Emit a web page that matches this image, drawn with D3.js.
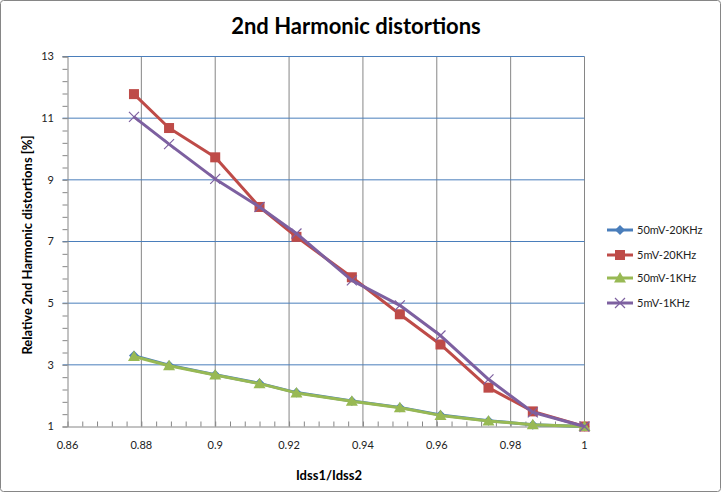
<!DOCTYPE html>
<html><head><meta charset="utf-8">
<script src="https://cdn.jsdelivr.net/npm/d3@7"></script>
<style>body{margin:0;background:#fff}svg{display:block}text{font-family:Lato,"Open Sans",sans-serif}</style>
</head><body><div id="chart"></div>
<script>
const xVals = [0.878, 0.8875, 0.9, 0.912, 0.922, 0.937, 0.95, 0.961, 0.974, 0.986, 1.0];
const s50mV20k = [3.3, 2.99, 2.68, 2.4, 2.1, 1.83, 1.62, 1.37, 1.19, 1.06, 1.0];
const s5mV20k  = [11.78, 10.68, 9.73, 8.12, 7.15, 5.84, 4.64, 3.66, 2.26, 1.49, 1.0];
const s50mV1k  = [3.27, 2.97, 2.67, 2.39, 2.09, 1.82, 1.61, 1.36, 1.18, 1.06, 1.0];
const s5mV1k   = [11.04, 10.16, 9.03, 8.12, 7.26, 5.74, 4.93, 3.95, 2.53, 1.46, 1.0];
const seriesNames = ["50mV-20KHz", "5mV-20KHz", "50mV-1KHz", "5mV-1KHz"];
const xTicks = [0.86, 0.88, 0.9, 0.92, 0.94, 0.96, 0.98, 1];
const yTicks = [1, 3, 5, 7, 9, 11, 13];
const title = "2nd Harmonic distortions";
const xTitle = "Idss1/Idss2";
const yTitle = "Relative 2nd Harmonic distortions [%]";

const W = 721, H = 492;
const colors = ["#4a7ebb", "#be4b48", "#98b954", "#7d60a0"];
const markers = ["diamond", "square", "triangle", "cross"];
const allSeries = [s50mV20k, s5mV20k, s50mV1k, s5mV1k];

const svg = d3.select("#chart").append("svg").attr("width", W).attr("height", H);
svg.append("rect").attr("x", 0.5).attr("y", 0.5).attr("width", W - 1).attr("height", H - 1)
  .attr("rx", 3).attr("fill", "#fff").attr("stroke", "#868686");

const x = d3.scaleLinear().domain([0.86, 1]).range([67.5, 584.5]);
const y = d3.scaleLinear().domain([1, 13]).range([426.5, 56.5]);
const grey = "#868686";

// vertical grid
svg.append("g").selectAll("line").data(xTicks.slice(1)).join("line")
  .attr("x1", d => x(d)).attr("x2", d => x(d)).attr("y1", y(13)).attr("y2", y(1))
  .attr("stroke", grey).attr("stroke-width", 1);
// horizontal grid
svg.append("g").selectAll("line").data(yTicks.slice(1)).join("line")
  .attr("x1", x(0.86) - 5).attr("x2", x(1)).attr("y1", d => y(d)).attr("y2", d => y(d))
  .attr("stroke", "#4a7ebb").attr("stroke-width", 1);

// y axis
const yMinor = d3.range(1, 13.001, 0.4);
const yAxis = d3.axisLeft(y).tickValues(yMinor).tickSize(5).tickFormat("");
const gy = svg.append("g").attr("transform", `translate(${x(0.86)},0)`).call(yAxis);
gy.selectAll("path,line").attr("stroke", grey);
svg.append("g").selectAll("text").data(yTicks).join("text")
  .attr("x", 54).attr("y", d => y(d)).attr("dy", "0.35em").attr("text-anchor", "end")
  .attr("font-size", 11).attr("fill", "#222").text(d => d);

// x axis
const xMinor = d3.range(0.86, 1.0001, 0.004);
const xAxis = d3.axisTop(x).tickValues(xMinor).tickSize(5).tickSizeOuter(0).tickFormat("");
const gx = svg.append("g").attr("transform", `translate(0,${y(1)})`).call(xAxis);
gx.selectAll("path,line").attr("stroke", grey);
svg.append("g").selectAll("text").data(xTicks).join("text")
  .attr("x", d => x(d)).attr("y", 449).attr("text-anchor", "middle")
  .attr("font-size", 11).attr("fill", "#222").text(d => d);

// titles
svg.append("text").attr("x", 356).attr("y", 34).attr("text-anchor", "middle")
  .attr("font-size", 22).attr("font-weight", "bold").attr("fill", "#000").text(title);
svg.append("text").attr("x", 329).attr("y", 480).attr("text-anchor", "middle")
  .attr("font-size", 13).attr("font-weight", "bold").attr("fill", "#000").text(xTitle);
svg.append("text").attr("transform", `translate(32,245) rotate(-90)`).attr("text-anchor", "middle")
  .attr("font-size", 13).attr("font-weight", "bold").attr("fill", "#000").text(yTitle);

function drawMarker(g, type, cx, cy, color) {
  if (type === "diamond") {
    g.append("path").attr("d", `M${cx},${cy-5}L${cx+5},${cy}L${cx},${cy+5}L${cx-5},${cy}Z`).attr("fill", color);
  } else if (type === "square") {
    g.append("rect").attr("x", cx - 5).attr("y", cy - 5).attr("width", 10).attr("height", 10).attr("fill", color);
  } else if (type === "triangle") {
    g.append("path").attr("d", `M${cx},${cy-6}L${cx+6},${cy+4.5}L${cx-6},${cy+4.5}Z`).attr("fill", color);
  } else {
    g.append("path").attr("d", `M${cx-5},${cy-5}L${cx+5},${cy+5}M${cx-5},${cy+5}L${cx+5},${cy-5}`)
      .attr("stroke", color).attr("stroke-width", 1.2).attr("fill", "none");
  }
}

const line = d3.line().x(d => x(d[0])).y(d => y(d[1]));
allSeries.forEach((vals, i) => {
  const pts = xVals.map((xv, j) => [xv, vals[j]]);
  const g = svg.append("g");
  g.append("path").datum(pts).attr("d", line).attr("fill", "none")
    .attr("stroke", colors[i]).attr("stroke-width", 3).attr("stroke-linejoin", "round");
  pts.forEach(p => drawMarker(g, markers[i], x(p[0]), y(p[1]), colors[i]));
});

// legend
const ly = [230, 255, 278, 303];
seriesNames.forEach((name, i) => {
  const g = svg.append("g");
  g.append("line").attr("x1", 607).attr("x2", 633).attr("y1", ly[i]).attr("y2", ly[i])
    .attr("stroke", colors[i]).attr("stroke-width", 3);
  drawMarker(g, markers[i], 620, ly[i], colors[i]);
  g.append("text").attr("x", 637).attr("y", ly[i]).attr("dy", "0.35em")
    .attr("font-size", 11).attr("fill", "#222").text(name);
});
</script></body></html>
